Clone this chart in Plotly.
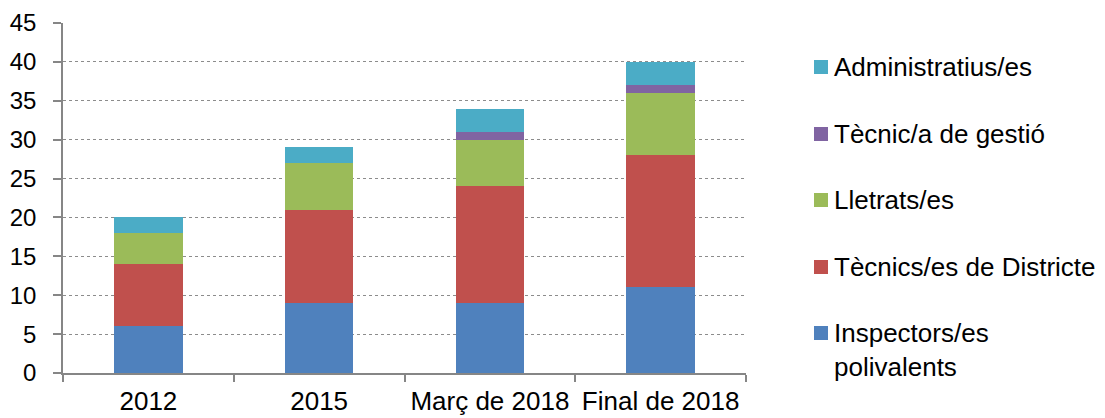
import plotly.graph_objects as go

categories = ["2012", "2015", "Març de 2018", "Final de 2018"]
series_names = ["Inspectors/es polivalents", "Tècnics/es de Districte", "Lletrats/es",
                "Tècnic/a de gestió", "Administratius/es"]
inspectors = [6, 9, 9, 11]
tecnics_districte = [8, 12, 15, 17]
lletrats = [4, 6, 6, 8]
tecnic_gestio = [0, 0, 1, 1]
administratius = [2, 2, 3, 3]
legend_labels = ["Inspectors/es<br>polivalents", "Tècnics/es de Districte", "Lletrats/es",
                 "Tècnic/a de gestió", "Administratius/es"]
y_ticks = [0, 5, 10, 15, 20, 25, 30, 35, 40, 45]

values = [inspectors, tecnics_districte, lletrats, tecnic_gestio, administratius]
colors = ["#4F81BD", "#C0504D", "#9BBB59", "#8064A2", "#4BACC6"]

# page body has an 8px margin; work in window pixels and subtract it
OFF = 8
W, H = 1105 - OFF, 418 - OFF
L, R, T, B = 63 - OFF, 746 - OFF, 23 - OFF, 373 - OFF
FONT = "Liberation Sans, Arial, sans-serif"

fig = go.Figure()
for name, vals, col in zip(series_names, values, colors):
    fig.add_trace(go.Bar(x=categories, y=vals, name=name, marker_color=col,
                         marker_line_width=0, showlegend=False))

def px_x(px):
    return (px - OFF - L) / (R - L)

def px_y(py):
    return (B - (py - OFF)) / (B - T)

row_centers = [333, 267, 200, 134, 67]
shapes = []
annotations = []
for i, (lab, col) in enumerate(zip(legend_labels, colors)):
    cy = row_centers[i]
    shapes.append(dict(type="rect", xref="paper", yref="paper",
                       x0=px_x(814), x1=px_x(828), y0=px_y(cy + 7), y1=px_y(cy - 7),
                       fillcolor=col, line_width=0))
    if "<br>" in lab:
        annotations.append(dict(xref="paper", yref="paper", x=px_x(832), y=px_y(cy - 17),
                                xanchor="left", yanchor="top", align="left", text=lab,
                                showarrow=False, font=dict(family=FONT, size=26, color="#000000")))
    else:
        annotations.append(dict(xref="paper", yref="paper", x=px_x(832), y=px_y(cy),
                                xanchor="left", yanchor="middle", align="left", text=lab,
                                showarrow=False, font=dict(family=FONT, size=26, color="#000000")))

fig.update_layout(
    barmode="stack",
    bargap=0.6,
    width=W, height=H,
    margin=dict(l=L, r=W - R, t=T, b=H - B, pad=0, autoexpand=False),
    paper_bgcolor="white", plot_bgcolor="white",
    font=dict(family=FONT, size=25, color="#000000"),
    shapes=shapes,
    annotations=annotations,
    showlegend=False,
)
fig.update_xaxes(
    type="category", range=[-0.5, 3.5], tickson="boundaries", automargin=False,
    ticks="outside", ticklen=7, tickcolor="#868686", tickwidth=1.5,
    showline=True, linecolor="#868686", linewidth=1.5,
    showgrid=False, tickfont=dict(family=FONT, size=26, color="#000000"),
    ticklabelstandoff=4,
)
fig.update_yaxes(
    range=[0, 45], tickvals=y_ticks, ticktext=[str(v) for v in y_ticks], automargin=False,
    ticks="outside", ticklen=8, tickcolor="#868686", tickwidth=1.5,
    showline=True, linecolor="#868686", linewidth=1.5,
    showgrid=True, gridcolor="#8c8c8c", gridwidth=1, griddash="dot",
    zeroline=False, tickfont=dict(family=FONT, size=24, color="#000000"),
    ticklabelstandoff=12,
)

fig.write_html("out.html")
